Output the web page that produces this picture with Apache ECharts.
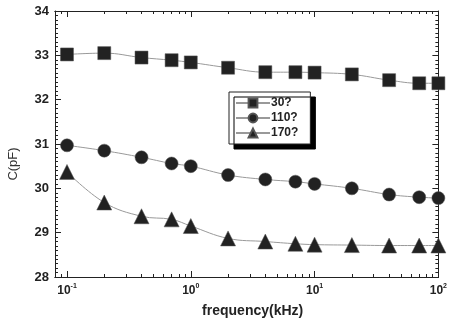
<!DOCTYPE html>
<html>
<head>
<meta charset="utf-8">
<script src="https://cdn.jsdelivr.net/npm/echarts@6/dist/echarts.min.js"></script>
<style>
  html, body {margin: 0; padding: 0; background: #fff;}
  #main {width: 450px; height: 323px;}
</style>
</head>
<body>
<div id="main"></div>
<script>
  // frequency in kHz
  const freq = [0.1, 0.2, 0.4, 0.7, 1, 2, 4, 7, 10, 20, 40, 70, 100];
  const c30 = [33.02, 33.05, 32.95, 32.89, 32.84, 32.72, 32.62, 32.62, 32.61, 32.57, 32.44, 32.37, 32.37];
  const c110 = [30.97, 30.85, 30.70, 30.56, 30.50, 30.30, 30.20, 30.15, 30.10, 30.00, 29.86, 29.80, 29.78];
  const c170 = [30.37, 29.68, 29.37, 29.30, 29.15, 28.87, 28.80, 28.75, 28.73, 28.72, 28.71, 28.71, 28.71];
  const seriesNames = ['30?', '110?', '170?'];
  const majorTicks = [0.1, 1, 10, 100];
  const minorTicks = [0.09, 0.2, 0.3, 0.4, 0.5, 0.6, 0.7, 0.8, 0.9,
    2, 3, 4, 5, 6, 7, 8, 9, 20, 30, 40, 50, 60, 70, 80, 90];

  const ink = '#222';
  const font = '"Liberation Sans", Arial, sans-serif';
  const chart = echarts.init(document.getElementById('main'));

  const xBase = {
    type: 'log', logBase: 10, min: 0.08, max: 100,
    gridIndex: 0,
    axisLine: {show: true, lineStyle: {color: ink, width: 1}},
    splitLine: {show: false},
    axisLabel: {show: false}
  };
  const pair = (arr) => arr.map((v, i) => [freq[i], v]);
  const mk = (name, data, symbol, size) => ({
    name, type: 'line', data: pair(data), smooth: 0.4,
    symbol, symbolSize: size,
    lineStyle: {color: '#999', width: 1},
    itemStyle: {color: ink, borderColor: '#555', borderWidth: 0.5},
    z: 3
  });

  chart.setOption({
    animation: false,
    grid: {left: 55, right: 7, top: 11, bottom: 41},
    legend: {
      orient: 'vertical', left: 229, top: 92,
      data: seriesNames,
      backgroundColor: '#fff', borderColor: ink, borderWidth: 1,
      shadowColor: '#000', shadowBlur: 0, shadowOffsetX: 5, shadowOffsetY: 5,
      padding: [5, 12, 5, 6], itemGap: 3, itemWidth: 34, itemHeight: 11,
      textStyle: {color: ink, fontFamily: font, fontWeight: 'bold', fontSize: 12, padding: [0, 0, 0, -4]}
    },
    xAxis: [
      Object.assign({}, xBase, {
        position: 'bottom',
        axisTick: {show: true, inside: true, length: 6, customValues: majorTicks, lineStyle: {color: ink}},
        axisLabel: {
          show: true, customValues: majorTicks, margin: 6,
          formatter: v => '{b|10}{s|' + Math.round(Math.log10(v)) + '}',
          rich: {
            b: {fontFamily: font, fontWeight: 'bold', fontSize: 12, color: ink},
            s: {fontFamily: font, fontWeight: 'bold', fontSize: 7, color: ink, verticalAlign: 'top', padding: [0, 0, 8, 0]}
          }
        },
        name: 'frequency(kHz)', nameLocation: 'middle', nameGap: 27,
        nameTextStyle: {fontFamily: font, fontWeight: 'bold', fontSize: 14, color: ink, padding: [0, 0, 0, 12]}
      }),
      Object.assign({}, xBase, {
        position: 'bottom',
        axisTick: {show: true, inside: true, length: 3, customValues: minorTicks, lineStyle: {color: ink}}
      }),
      Object.assign({}, xBase, {
        position: 'top',
        axisTick: {show: true, inside: true, length: 6, customValues: majorTicks, lineStyle: {color: ink}}
      }),
      Object.assign({}, xBase, {
        position: 'top',
        axisTick: {show: true, inside: true, length: 3, customValues: minorTicks, lineStyle: {color: ink}}
      })
    ],
    yAxis: [
      {
        type: 'value', min: 28, max: 34, interval: 1, position: 'left',
        axisLine: {show: true, lineStyle: {color: ink}},
        axisTick: {show: true, inside: true, length: 6, lineStyle: {color: ink}},
        minorTick: {show: true, splitNumber: 10, length: 3, lineStyle: {color: ink}},
        splitLine: {show: false},
        axisLabel: {margin: 6, color: ink, fontFamily: font, fontWeight: 'bold', fontSize: 13}
      },
      {
        type: 'value', min: 28, max: 34, interval: 1, position: 'right',
        axisLine: {show: true, lineStyle: {color: ink}},
        axisTick: {show: true, inside: true, length: 6, lineStyle: {color: ink}},
        minorTick: {show: true, splitNumber: 10, length: 3, lineStyle: {color: ink}},
        splitLine: {show: false},
        axisLabel: {show: false}
      }
    ],
    graphic: [{
      type: 'text', x: 13, y: 164, rotation: Math.PI / 2,
      style: {text: 'C(pF)', fill: '#333', font: '13px ' + font, align: 'center', verticalAlign: 'middle'}
    }],
    series: [
      mk(seriesNames[0], c30, 'rect', 13),
      mk(seriesNames[1], c110, 'circle', 13),
      mk(seriesNames[2], c170, 'triangle', 15)
    ]
  });
</script>
</body>
</html>
